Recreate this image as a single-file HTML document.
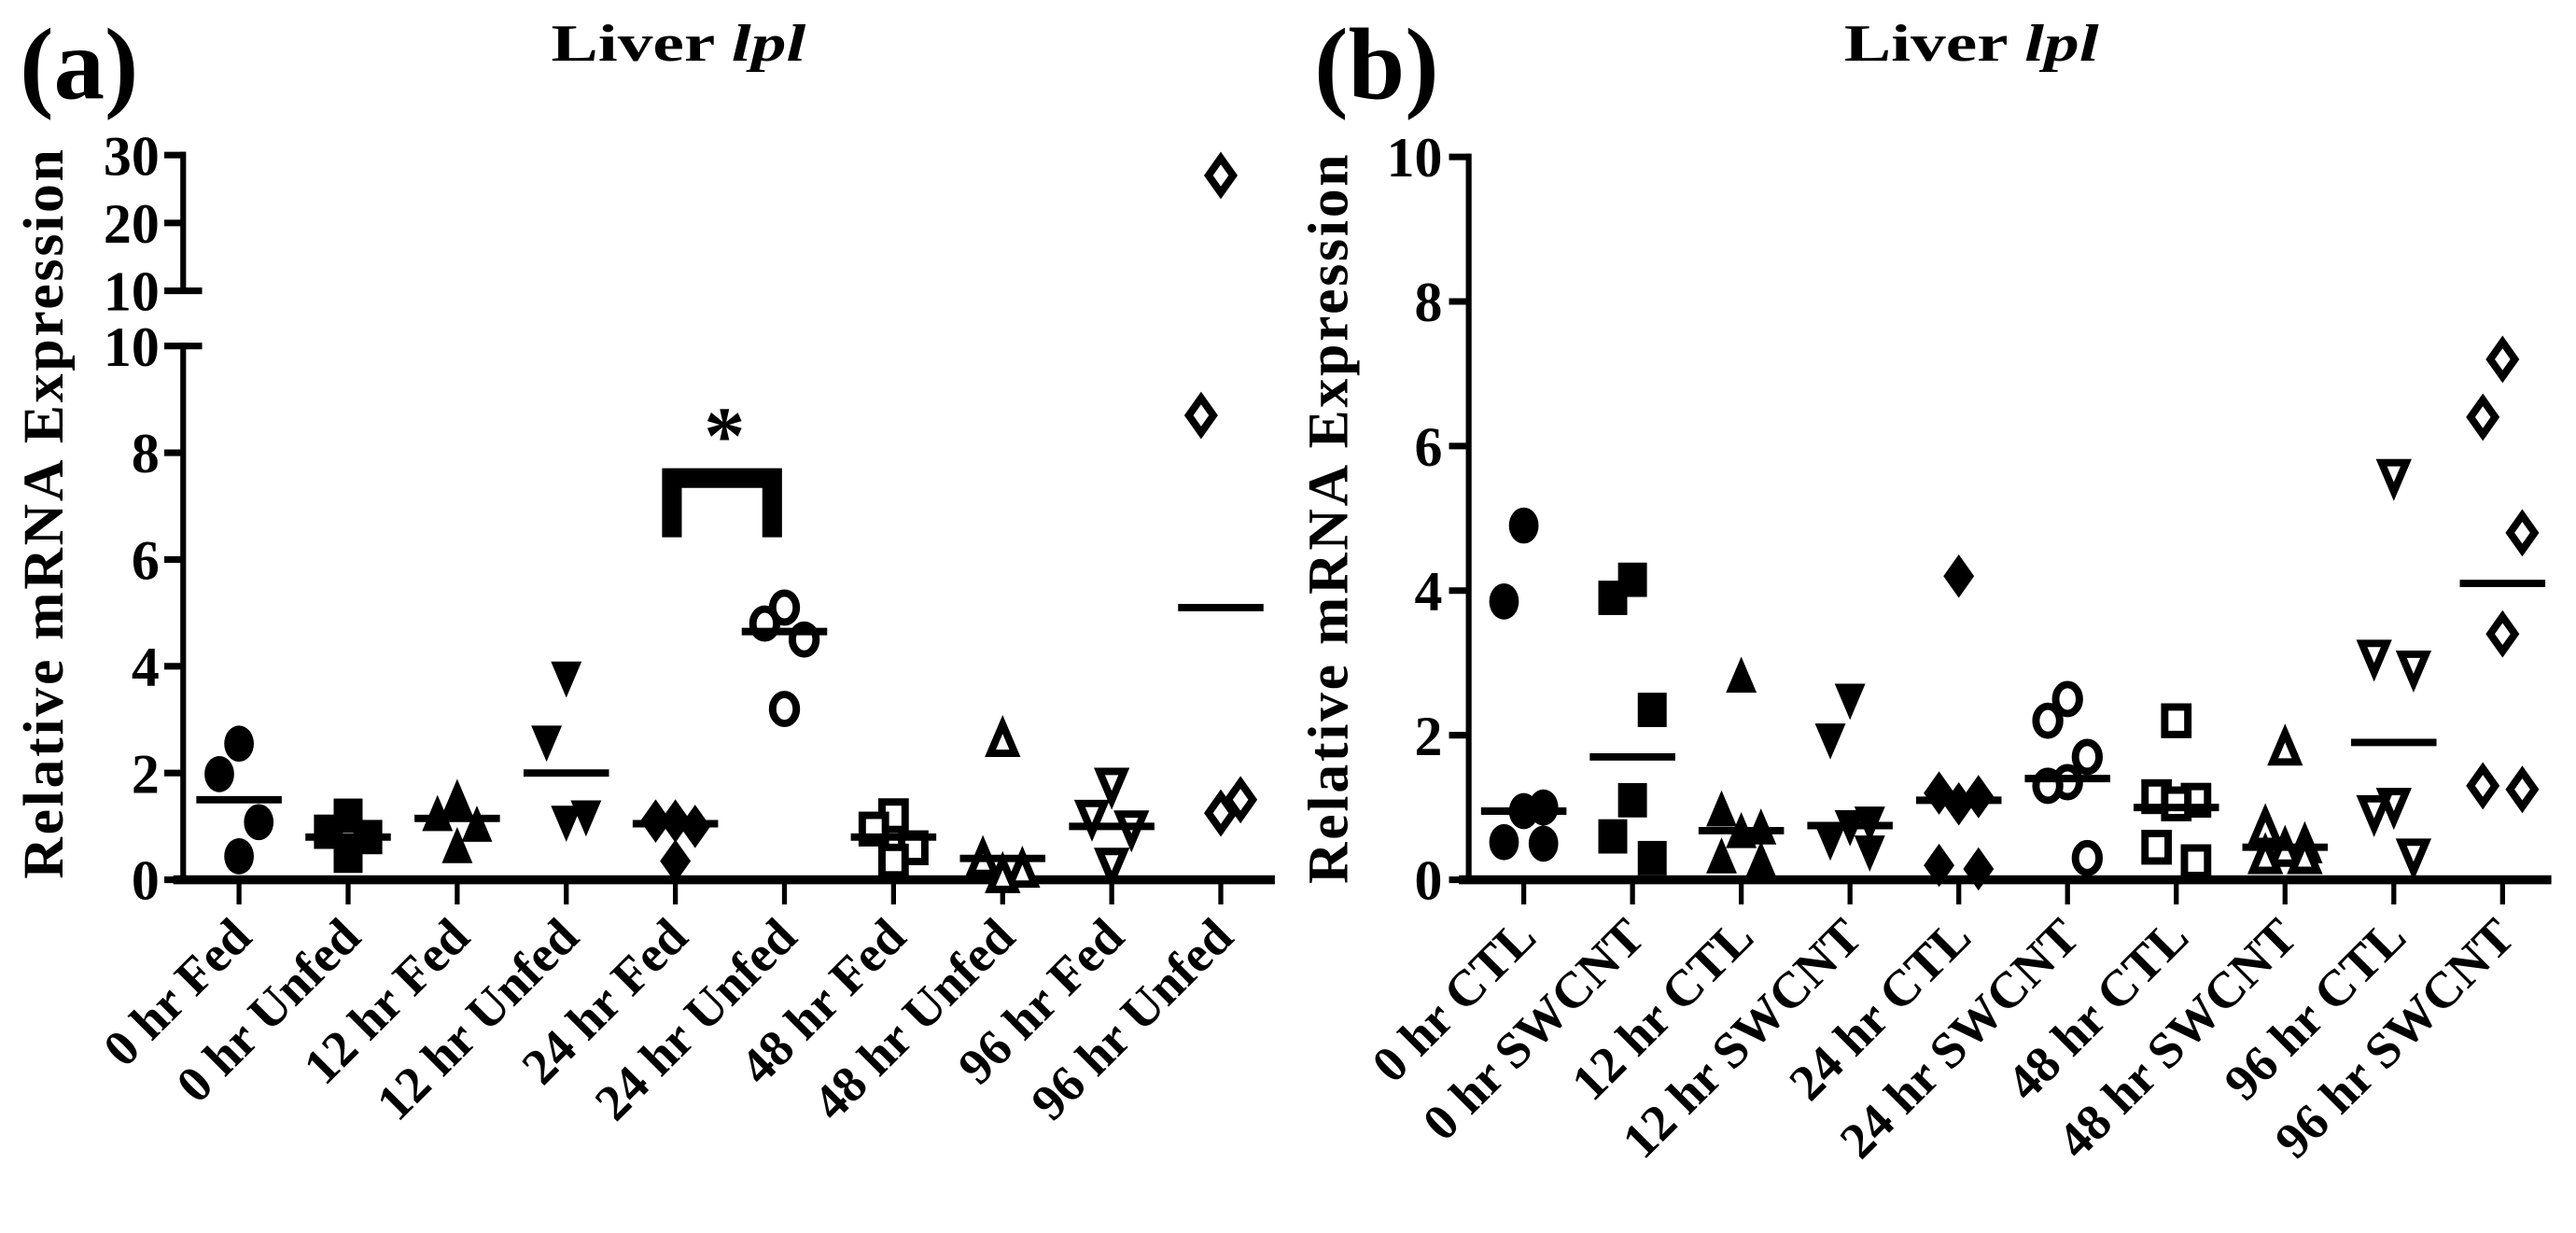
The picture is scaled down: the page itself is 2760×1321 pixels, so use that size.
<!DOCTYPE html>
<html><head><meta charset="utf-8"><style>
html,body{margin:0;padding:0;background:#fff;}
svg{display:block;}
text{font-family:"Liberation Serif",serif;font-weight:bold;fill:#000;}
</style></head><body>
<svg id="fig" width="2760" height="1321" viewBox="0 0 1568 750.5" preserveAspectRatio="none" xmlns="http://www.w3.org/2000/svg">
<g id="pa"></g>
<g id="pb"></g>
</svg>
<script>
// ---- data panel a ----
const catsA = ["0 hr Fed","0 hr Unfed","12 hr Fed","12 hr Unfed","24 hr Fed","24 hr Unfed","48 hr Fed","48 hr Unfed","96 hr Fed","96 hr Unfed"];
const valsA = [[2.55,1.98,1.08,0.44],[1.2,0.9,0.8,0.45],[1.5,1.2,1.0,0.6],[3.8,2.6,1.2,1.1],[1.1,1.1,1.0,0.35],[5.1,4.8,4.5,3.2],[1.2,0.95,0.6,0.35],[2.6,0.35,0.15,0.05],[1.8,1.2,1.0,0.3],[27,8.7,1.5,1.25]];
const meansA = [1.5,0.8,1.15,2.0,1.05,4.65,0.8,0.4,1.0,5.1];
const ticksAlow = [0,2,4,6,8,10];
const ticksAhigh = [10,20,30];
// ---- data panel b ----
const catsB = ["0 hr CTL","0 hr SWCNT","12 hr CTL","12 hr SWCNT","24 hr CTL","24 hr SWCNT","48 hr CTL","48 hr SWCNT","96 hr CTL","96 hr SWCNT"];
const valsB = [[4.9,3.85,1.0,0.95,0.52,0.5],[4.15,3.9,2.35,1.1,0.6,0.3],[2.8,0.95,0.7,0.65,0.3,0.25],[2.5,1.95,0.8,0.75,0.55,0.4],[4.2,1.2,1.15,1.05,0.2,0.15],[2.5,2.2,1.7,1.35,1.3,0.3],[2.2,1.15,1.1,1.05,0.45,0.25],[1.8,0.7,0.45,0.4,0.3,0.3],[5.6,3.1,2.95,1.05,0.95,0.35],[7.2,6.4,4.8,3.4,1.3,1.25]];
const meansB = [0.95,1.7,0.68,0.75,1.1,1.4,1.0,0.45,1.9,4.1];
const ticksB = [0,2,4,6,8,10];
const shapes = ["circle","square","up","down","diamond","circle","square","up","down","diamond"];

const NS="http://www.w3.org/2000/svg";
function mk(parent,tag,attrs){const e=document.createElementNS(NS,tag);for(const k in attrs)e.setAttribute(k,attrs[k]);parent.appendChild(e);return e;}
function txt(parent,s,x,y,size,anchor,extra){const t=mk(parent,"text",Object.assign({x:x,y:y,"font-size":size,"text-anchor":anchor||"start"},extra||{}));t.textContent=s;return t;}

function marker(g,shape,open,cx,cy){
  const r=11, sw=open?4.5:0, fill=open?"#fff":"#000", st=open?"#000":"none";
  const rr=open?r-2.2:r;
  let e;
  if(shape==="circle") e=mk(g,"ellipse",{cx:cx,cy:cy,rx:rr*0.82,ry:rr,fill:fill,stroke:st,"stroke-width":sw});
  else if(shape==="square") e=mk(g,"rect",{x:cx-rr*0.8,y:cy-rr*0.95,width:rr*1.6,height:rr*1.9,fill:fill,stroke:st,"stroke-width":sw});
  else if(shape==="up") e=mk(g,"polygon",{points:`${cx},${cy-rr*1.15} ${cx+rr*0.85},${cy+rr*0.85} ${cx-rr*0.85},${cy+rr*0.85}`,fill:fill,stroke:st,"stroke-width":sw});
  else if(shape==="down") e=mk(g,"polygon",{points:`${cx},${cy+rr*1.15} ${cx+rr*0.85},${cy-rr*0.85} ${cx-rr*0.85},${cy-rr*0.85}`,fill:fill,stroke:st,"stroke-width":sw});
  else e=mk(g,"polygon",{points:`${cx},${cy-rr*1.2} ${cx+rr*0.85},${cy} ${cx},${cy+rr*1.2} ${cx-rr*0.85},${cy}`,fill:fill,stroke:st,"stroke-width":sw});
  return e;
}
const jit=[0,-1,1,0,-1,1];

function panel(g,opt){
  const {cats,vals,means,x0,x1,xc0,dx,yf,label,lx,tx}=opt;
  const xf=i=>xc0+i*dx;
  const ax=mk(g,"line",{x1:x0-6,y1:yf(0),x2:x1,y2:yf(0),stroke:"#000","stroke-width":5.5});
  
  
  cats.forEach((c,i)=>{
    const tk=mk(g,"line",{x1:xf(i),y1:yf(0),x2:xf(i),y2:yf(0)+15,stroke:"#000","stroke-width":3});
    
    
    const t=txt(g,c,xf(i)+9,572,31,"end",{transform:`rotate(-45 ${xf(i)+9} 572)`});
    
    
  });
  vals.forEach((arr,i)=>{
    const open=i>=5;
    arr.forEach((v,j)=>{
      const m=marker(g,shapes[i],open,xf(i)+jit[j%6]*12,yf(v));
      
      
    });
    const ml=mk(g,"line",{x1:xf(i)-26,y1:yf(means[i]),x2:xf(i)+26,y2:yf(means[i]),stroke:"#000","stroke-width":4.5});
    
    
  });
  const pl=txt(g,label,lx,60,62,"start");
  
  
  const tt=mk(g,"text",{x:tx,y:37,"font-size":32,"text-anchor":"middle",textLength:155,lengthAdjust:"spacingAndGlyphs"});
  tt.innerHTML='Liver <tspan font-style="italic">lpl</tspan>';
  
  
}

// Panel A
const pa=document.getElementById("pa");
const yA=v=>v<=10?535.5-v*32.49:177-(v-10)*4.13;
panel(pa,{cats:catsA,vals:valsA,means:meansA,x0:111.5,x1:776,xc0:145.5,dx:66.4,yf:yA,label:"(a)",lx:12,tx:413});
let l=mk(pa,"line",{x1:111.5,y1:yA(0),x2:111.5,y2:yA(10)-2,stroke:"#000","stroke-width":3.5});


l=mk(pa,"line",{x1:111.5,y1:yA(10.001)+1,x2:111.5,y2:yA(30)-2,stroke:"#000","stroke-width":3.5});


ticksAlow.forEach(v=>{
  const t=mk(pa,"line",{x1:100,y1:yA(v),x2:v===10?123:113,y2:yA(v),stroke:"#000","stroke-width":4});
  
  
  const s=txt(pa,String(v),97,yA(v)+12,34,"end");
  
  
});
ticksAhigh.forEach(v=>{
  const y=v===10?177:177-(v-10)*4.13;
  const t=mk(pa,"line",{x1:100,y1:y,x2:v===10?123:113,y2:y,stroke:"#000","stroke-width":4});
  
  
  const s=txt(pa,String(v),97,y+12,34,"end");
  
  
});
let yt=txt(pa,"Relative mRNA Expression",0,0,35,"middle",{transform:"translate(38 313) rotate(-90)",textLength:444,lengthAdjust:"spacing"});


const br=mk(pa,"path",{d:"M409 327 V291 H470 V327",fill:"none",stroke:"#000","stroke-width":12});


const ast=txt(pa,"*",441,282,50,"middle");



// Panel B
const pb=document.getElementById("pb");
const yB=v=>535.5-v*44;
panel(pb,{cats:catsB,vals:valsB,means:meansB,x0:894,x1:1553,xc0:927.5,dx:66.2,yf:yB,label:"(b)",lx:800,tx:1200});
l=mk(pb,"line",{x1:894,y1:yB(0),x2:894,y2:yB(10)-2,stroke:"#000","stroke-width":3.5});


ticksB.forEach(v=>{
  const t=mk(pb,"line",{x1:882,y1:yB(v),x2:895,y2:yB(v),stroke:"#000","stroke-width":4});
  
  
  const s=txt(pb,String(v),878,yB(v)+12,34,"end");
  
  
});
yt=txt(pb,"Relative mRNA Expression",0,0,35,"middle",{transform:"translate(820 316) rotate(-90)",textLength:444,lengthAdjust:"spacing"});


</script>
</body></html>
